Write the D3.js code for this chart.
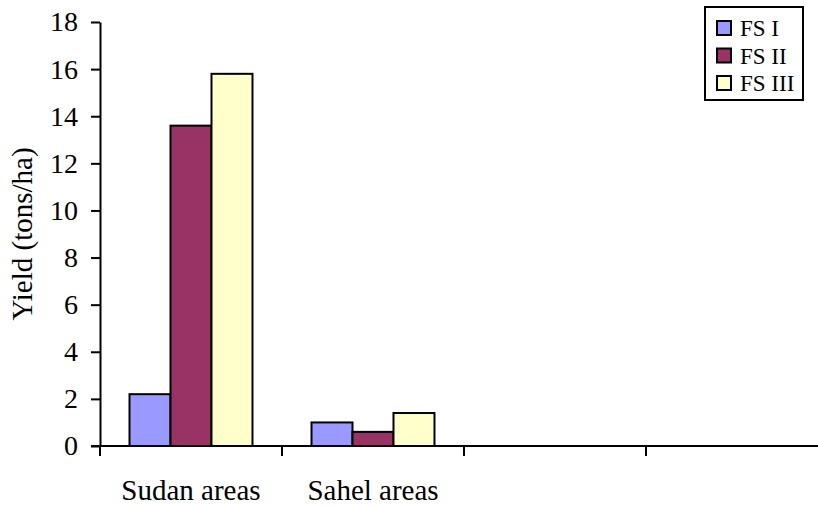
<!DOCTYPE html>
<html><head><meta charset="utf-8">
<script src="https://cdn.jsdelivr.net/npm/d3@7"></script>
<style>body{margin:0;background:#fff}svg{display:block}</style>
</head><body>
<script>
const categories = ["Sudan areas", "Sahel areas", "", " "];
const seriesNames = ["FS I", "FS II", "FS III"];
const fsI = [2.2, 1.0, null, null];
const fsII = [13.6, 0.6, null, null];
const fsIII = [15.8, 1.4, null, null];
const yTicks = [0, 2, 4, 6, 8, 10, 12, 14, 16, 18];
const colors = ["#9999FF", "#993366", "#FFFFCC"];
const seriesValues = [fsI, fsII, fsIII];

const W = 818, H = 507;
const svg = d3.select("body").append("svg").attr("width", W).attr("height", H);
const font = "'Liberation Serif', 'Times New Roman', serif";

const x = d3.scaleBand().domain(categories).range([100, 828]).paddingInner(0).paddingOuter(0);
const y = d3.scaleLinear().domain([0, 18]).range([446, 22]);
const xs = d3.scaleBand().domain(seriesNames).range([0, x.bandwidth()]).paddingInner(0).paddingOuter(0.72);

// bars
categories.forEach((c, ci) => {
  seriesNames.forEach((s, si) => {
    const v = seriesValues[si][ci];
    if (v == null) return;
    svg.append("rect")
      .attr("x", x(c) + xs(s))
      .attr("y", y(v))
      .attr("width", xs.bandwidth())
      .attr("height", y(0) - y(v))
      .attr("fill", colors[si])
      .attr("stroke", "#000")
      .attr("stroke-width", 2);
  });
});

// y axis
const yAxis = svg.append("g").attr("transform", "translate(100,0)")
  .call(d3.axisLeft(y).tickValues(yTicks).tickSize(9).tickPadding(13).tickSizeOuter(0));
yAxis.selectAll("path,line").attr("stroke", "#000").attr("stroke-width", 2);
yAxis.selectAll("text").attr("font-family", font).attr("font-size", 28).attr("fill", "#000");

// x axis
const xAxis = svg.append("g").attr("transform", "translate(0,446)")
  .call(d3.axisBottom(x).tickSize(0).tickPadding(0).tickFormat(""));
xAxis.select("path").attr("d", "M91,0H828").attr("stroke", "#000").attr("stroke-width", 2);
const boundaries = categories.map(c => x(c)).concat([x.range()[1]]);
svg.append("g").selectAll("line").data(boundaries).join("line")
  .attr("x1", d => d).attr("x2", d => d)
  .attr("y1", 446).attr("y2", 456)
  .attr("stroke", "#000").attr("stroke-width", 2);
svg.append("g").selectAll("text").data(categories.filter(c => c.trim() !== "")).join("text")
  .attr("x", d => x(d) + x.bandwidth() / 2)
  .attr("y", 500)
  .attr("text-anchor", "middle")
  .attr("font-family", font).attr("font-size", 29).attr("fill", "#000")
  .text(d => d);

// y label
svg.append("text")
  .attr("transform", "translate(32,234) rotate(-90)")
  .attr("text-anchor", "middle")
  .attr("font-family", font).attr("font-size", 29).attr("fill", "#000")
  .text("Yield (tons/ha)");

// legend
const lg = svg.append("g");
lg.append("rect").attr("x", 705).attr("y", 7).attr("width", 98).attr("height", 93)
  .attr("fill", "#fff").attr("stroke", "#000").attr("stroke-width", 2);
seriesNames.forEach((s, i) => {
  const cy = 28 + i * 27.5;
  lg.append("rect").attr("x", 717).attr("y", cy - 7).attr("width", 14).attr("height", 14)
    .attr("fill", colors[i]).attr("stroke", "#000").attr("stroke-width", 2);
  lg.append("text").attr("x", 740).attr("y", cy + 8)
    .attr("font-family", font).attr("font-size", 23).attr("fill", "#000").text(s);
});
</script>
</body></html>
